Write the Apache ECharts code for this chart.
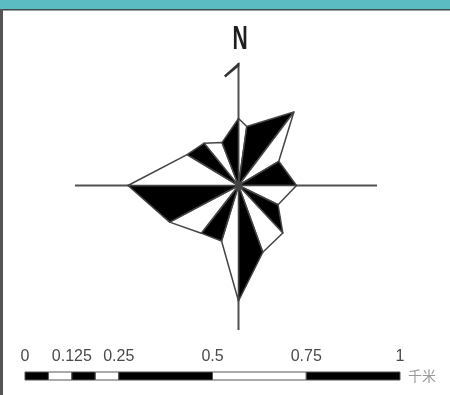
<!DOCTYPE html>
<html>
<head>
<meta charset="utf-8">
<script src="https://cdn.jsdelivr.net/npm/echarts@6/dist/echarts.min.js"></script>
<style>
    html, body { margin: 0; padding: 0; background: #fff; }
    #main { width: 450px; height: 395px; }
</style>
</head>
<body>
<div id="main"></div>
<script>
    // 风向 (度, 由北顺时针) 与 玫瑰各点的长度
    var dirAngles = [0, 8, 37, 59, 90, 116, 137, 160, 180, 197, 218, 242, 270, 301, 321, 339];
    var dirValues = [67, 59.5, 92, 47, 58, 44, 65, 71, 115.5, 58, 60.5, 78, 110.5, 60, 54.5, 46];

    // 比例尺
    var scaleTicks = [0, 0.125, 0.25, 0.5, 0.75, 1];
    var scaleStart = [0, 0.0625, 0.125, 0.1875, 0.25, 0.5, 0.75];
    var scaleEnd = [0.0625, 0.125, 0.1875, 0.25, 0.5, 0.75, 1];
    var scaleUnit = '千米';

    var myChart = echarts.init(document.getElementById('main'));

    var cx = 238.5, cy = 185.5;
    var lineColor = '#505050';

    function drawRose() {
        var roseData = [];
        for (var i = 0; i < dirAngles.length; i++) {
            roseData.push([dirValues[i], dirAngles[i]]);
        }
        var barData = [];
        for (var k = 0; k < scaleStart.length; k++) {
            barData.push([scaleStart[k], scaleEnd[k]]);
        }

        var option = {
            animation: false,
            polar: {
                center: [cx, cy],
                radius: 150
            },
            angleAxis: {
                type: 'value',
                min: 0,
                max: 360,
                startAngle: 90,
                clockwise: true,
                show: false
            },
            radiusAxis: {
                type: 'value',
                min: 0,
                max: 150,
                show: false
            },
            grid: {
                left: 25,
                width: 375,
                top: 372,
                height: 8
            },
            xAxis: {
                type: 'value',
                min: 0,
                max: 1,
                position: 'top',
                axisLine: { show: false },
                axisTick: { show: false },
                splitLine: { show: false },
                axisLabel: {
                    customValues: scaleTicks,
                    showMinLabel: true,
                    showMaxLabel: true,
                    margin: 7,
                    color: '#4a4a4a',
                    fontSize: 16,
                    fontFamily: 'Liberation Sans',
                    formatter: function (v) { return String(v); }
                }
            },
            yAxis: {
                type: 'value',
                min: 0,
                max: 1,
                show: false
            },
            graphic: [
                // 上方边框
                { type: 'rect', shape: { x: 0, y: 0, width: 450, height: 9 }, style: { fill: '#5bbcc4' } },
                { type: 'rect', shape: { x: 0, y: 9, width: 450, height: 1.5 }, style: { fill: '#3d4a4c' } },
                { type: 'rect', shape: { x: 0, y: 9, width: 3, height: 386 }, style: { fill: '#555' } },
                // 十字线
                { type: 'line', shape: { x1: 75, y1: cy, x2: 377, y2: cy }, style: { stroke: lineColor, lineWidth: 2 } },
                { type: 'line', shape: { x1: cx, y1: 63, x2: cx, y2: 330 }, style: { stroke: lineColor, lineWidth: 2 } },
                // 指北针
                { type: 'polygon', shape: { points: [[cx + 0.8, 62], [224, 75.5], [225.5, 77.5], [cx + 0.8, 66]] }, style: { fill: '#333' } },
                {
                    type: 'text', x: 240, y: 40, scaleX: 0.62,
                    style: {
                        text: 'N', fill: '#1e1e1e', fontSize: 34, fontWeight: 'bold',
                        fontFamily: 'Liberation Sans', align: 'center', verticalAlign: 'middle'
                    }
                },
                {
                    type: 'text', x: 408, y: 376,
                    style: {
                        text: scaleUnit, fill: '#999', fontSize: 14,
                        fontFamily: 'Noto Sans CJK SC', align: 'left', verticalAlign: 'middle'
                    }
                }
            ],
            series: [
                {
                    type: 'custom',
                    coordinateSystem: 'polar',
                    data: roseData,
                    renderItem: function (params, api) {
                        var i = params.dataIndex;
                        var j = (i + 1) % dirValues.length;
                        var p0 = api.coord([0, 0]);
                        var p1 = api.coord([dirValues[i], dirAngles[i]]);
                        var p2 = api.coord([dirValues[j], dirAngles[j]]);
                        return {
                            type: 'polygon',
                            shape: { points: [p0, p1, p2] },
                            style: {
                                fill: i % 2 === 0 ? '#fff' : '#000',
                                stroke: '#444',
                                lineWidth: 1.5,
                                lineJoin: 'round'
                            }
                        };
                    },
                    z: 3
                },
                {
                    type: 'custom',
                    coordinateSystem: 'cartesian2d',
                    data: barData,
                    renderItem: function (params, api) {
                        var a = api.coord([api.value(0), 1]);
                        var b = api.coord([api.value(1), 0]);
                        return {
                            type: 'rect',
                            shape: { x: a[0], y: a[1], width: b[0] - a[0], height: b[1] - a[1] },
                            style: {
                                fill: params.dataIndex % 2 === 0 ? '#000' : '#fff',
                                stroke: '#555',
                                lineWidth: 1
                            }
                        };
                    }
                }
            ]
        };
        myChart.setOption(option);
    }

    drawRose();
</script>
</body>
</html>
